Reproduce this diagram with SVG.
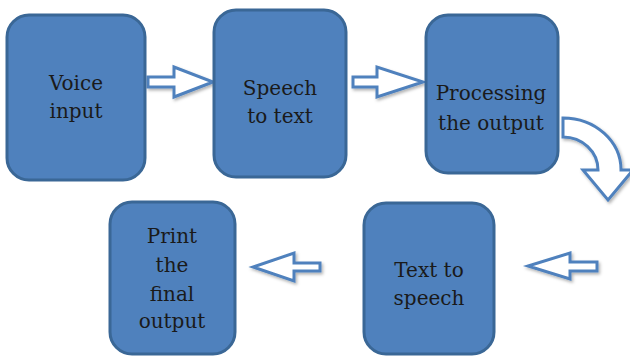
<svg xmlns="http://www.w3.org/2000/svg" width="630" height="356" viewBox="0 0 630 356">
<style>
.box{fill:#4f81bd;stroke:#3a6796;stroke-width:3}
.arr{fill:#ffffff;stroke:#4f81bd;stroke-width:3;stroke-linejoin:miter;filter:url(#sh)}
text{font-family:"DejaVu Serif","Liberation Serif",serif;font-size:20px;fill:#1a1a1a;text-anchor:middle}
</style>
<defs>
<filter id="sh" x="-20%" y="-20%" width="150%" height="150%">
<feDropShadow dx="1.5" dy="2" stdDeviation="1.5" flood-color="#000" flood-opacity="0.3"/>
</filter>
</defs>
<rect width="630" height="356" fill="#ffffff"/>
<g id="connectors">
<polygon class="arr" points="148,77 174,77 174,67 213,82 174,97 174,87 148,87"/>
<polygon class="arr" points="353,77 377,77 377,67 423,82 377,97 377,87 353,87"/>
<path class="arr" d="M563,118 A58,52 0 0 1 621,170 L633,170 L608,200 L583,170 L598,170 A35,33 0 0 0 563,137 Z"/>
<polygon class="arr" points="597,262 570,262 570,253 528,266 570,279 570,271 597,271"/>
<polygon class="arr" points="320,263 294,263 294,253 253,267 294,281 294,271 320,271"/>
</g>
<g id="voice-input">
<rect class="box" x="7" y="15" width="138" height="165" rx="22"/>
<text x="76" y="90">Voice</text>
<text x="76" y="118">input</text>
</g>
<g id="speech-to-text">
<rect class="box" x="214" y="10" width="132" height="167" rx="22"/>
<text x="280" y="95">Speech</text>
<text x="280" y="123">to text</text>
</g>
<g id="processing">
<rect class="box" x="426" y="15" width="132" height="158" rx="22"/>
<text x="491" y="100">Processing</text>
<text x="491" y="130">the output</text>
</g>
<g id="text-to-speech">
<rect class="box" x="364" y="203" width="130" height="151" rx="22"/>
<text x="429" y="277">Text to</text>
<text x="429" y="305">speech</text>
</g>
<g id="print-output">
<rect class="box" x="110" y="202" width="125" height="152" rx="22"/>
<text x="172" y="243">Print</text>
<text x="172" y="272">the</text>
<text x="172" y="301">final</text>
<text x="172" y="328">output</text>
</g>
</svg>
